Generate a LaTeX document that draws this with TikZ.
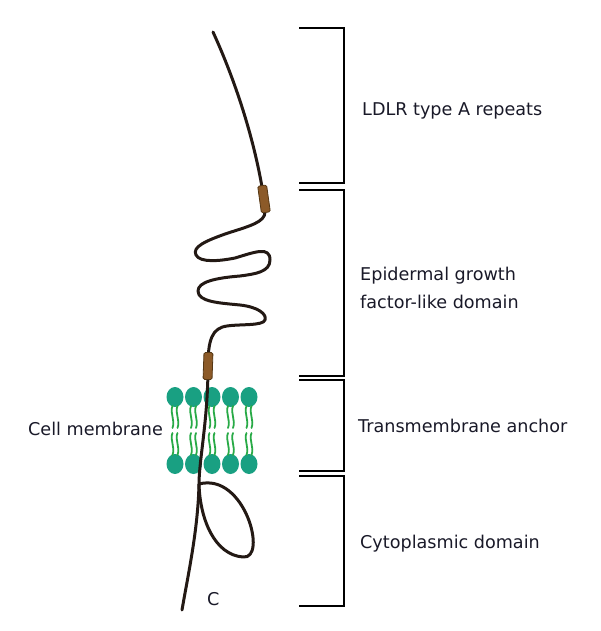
\documentclass[tikz,border=0pt]{standalone}
\usepackage{fontspec}
\setmainfont{DejaVu Sans}
\definecolor{textcol}{RGB}{25,25,40}
\definecolor{linecol}{RGB}{35,25,20}
\definecolor{beadcol}{RGB}{140,90,40}
\definecolor{beadedge}{RGB}{85,55,20}
\definecolor{headcol}{RGB}{25,160,130}
\definecolor{tailcol}{RGB}{40,170,70}
\begin{document}
\begin{tikzpicture}[x=1pt,y=-1pt,
  bracket/.style={draw=black,line width=1.4pt},
  prot/.style={draw=linecol,line width=3pt,line cap=round,line join=round},
  bead/.style={draw=beadedge,fill=beadcol,minimum width=9pt,minimum height=27pt,inner sep=0pt,rounded corners=1.5pt,line width=0.8pt},
  tail/.style={draw=tailcol,line width=1.8pt,line cap=round},
  lbl/.style={anchor=base west,inner sep=0pt,text=textcol,font=\fontsize{17.6}{20}\selectfont}]
\useasboundingbox (0,0) rectangle (600,631);
% brackets
\draw[bracket] (299,28) -| (344,183) -- (299,183);
\draw[bracket] (299,190) -| (344,376) -- (299,376);
\draw[bracket] (299,380) -| (344,471) -- (299,471);
\draw[bracket] (299,476) -| (344,606) -- (299,606);
% membrane
\foreach \x in {175,193.5,212,230.5,249}{
  \fill[headcol] (\x,397) ellipse [x radius=8.5, y radius=10];
  \fill[headcol] (\x,464) ellipse [x radius=8.5, y radius=10];
  \draw[tail] (\x-2.5,406) .. controls (\x-5.5,413) and (\x+0.5,420) .. (\x-2.5,428);
  \draw[tail] (\x+2.5,406) .. controls (\x-0.5,413) and (\x+5.5,420) .. (\x+2.5,428);
  \draw[tail] (\x-2.5,433) .. controls (\x-5.5,440) and (\x+0.5,447) .. (\x-2.5,455);
  \draw[tail] (\x+2.5,433) .. controls (\x-0.5,440) and (\x+5.5,447) .. (\x+2.5,455);
}
% protein
\draw[prot] (213,32) .. controls (235,80) and (255,140) .. (264,199)
  -- (265,212) .. controls (265,222) and (250,226) .. (228,233)
  .. controls (205,241) and (192,247) .. (196,255)
  .. controls (200,263) and (220,261) .. (235,258)
  .. controls (255,252) and (270,246) .. (270,260)
  .. controls (270,272) and (255,274) .. (240,276)
  .. controls (215,278) and (198,282) .. (198,291)
  .. controls (198,302) and (220,303) .. (240,305)
  .. controls (258,307) and (267,314) .. (265,320)
  .. controls (263,326) and (240,324) .. (227,326)
  .. controls (212,328) and (208,340) .. (208,366)
  .. controls (208,420) and (199,460) .. (199,484)
  .. controls (198,530) and (188,575) .. (182,610);
\draw[prot] (199,484) .. controls (245,472) and (268,560) .. (243,557) .. controls (215,555) and (200,520) .. (199,484);
\node[bead,rotate=8] (b1) at (264,199) {};
\node[bead,rotate=-2] (b2) at (208,366) {};
% labels
\node[lbl] (t1) at (362,116) {LDLR type A repeats};
\node[lbl] (t2) at (360,280) {Epidermal growth};
\node[lbl] (t3) at (360,308) {factor-like domain};
\node[lbl] (t4) at (358,432) {Transmembrane anchor};
\node[lbl] (t5) at (360,548) {Cytoplasmic domain};
\node[lbl] (t6) at (28,435) {Cell membrane};
\node[lbl] (t7) at (207,605) {C};
\end{tikzpicture}
\end{document}
